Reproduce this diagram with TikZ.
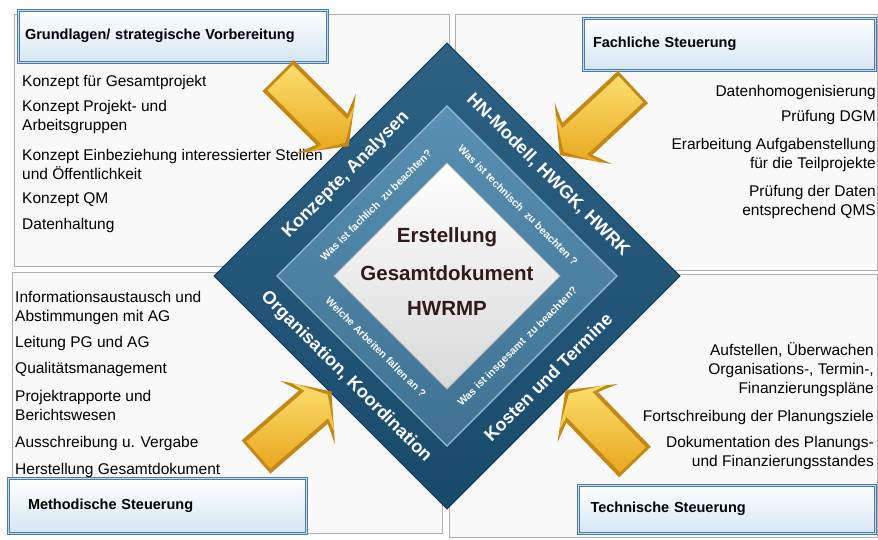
\documentclass[tikz,border=0pt]{standalone}
\usepackage{fontspec}
\setmainfont{Liberation Sans}
\usetikzlibrary{positioning}
\definecolor{outerblue}{RGB}{27,84,122}
\definecolor{rimblue}{RGB}{16,52,80}
\definecolor{midblue}{RGB}{74,134,172}
\definecolor{boxblue}{RGB}{72,124,170}
\definecolor{boxfill}{RGB}{214,230,243}
\definecolor{goldlight}{RGB}{252,222,110}
\definecolor{golddark}{RGB}{232,168,30}
\definecolor{goldedge}{RGB}{196,136,22}
\definecolor{corecolor}{RGB}{48,26,26}
\definecolor{panelline}{RGB}{175,175,175}
\tikzset{
  panel/.style={draw=panelline,fill=gray!5,line width=0.8pt},
  titlebox/.style={rectangle,top color=white,bottom color=boxfill,align=left,
    postaction={draw=boxblue,line width=3pt},postaction={draw=white!70!boxblue,line width=1pt},
    font=\fontsize{14.5}{17}\selectfont\bfseries},
  item/.style={font=\fontsize{15.5}{19}\selectfont,inner sep=0pt},
  bandtext/.style={text=white,font=\fontsize{18}{20}\selectfont\bfseries,inner sep=0pt},
  asktext/.style={text=white,font=\fontsize{10.5}{12}\selectfont\bfseries,inner sep=0pt},
  centertext/.style={text=corecolor,font=\fontsize{20.5}{23}\selectfont\bfseries,inner sep=0pt}
}
% block arrow: tail centre, direction
\newcommand{\goldarrow}[2]{%
  \begin{scope}[shift={(#1)},rotate=#2]
    \fill[goldedge] (0,-22) -- (76,-22) -- (68,-42) -- (100,0) -- (68,42) -- (76,22) -- (0,22) -- cycle;
    \shade[top color=goldlight,bottom color=golddark] (3,-18) -- (80,-18) -- (75,-34) -- (95,0) -- (75,34) -- (80,18) -- (3,18) -- cycle;
  \end{scope}}

\begin{document}
\begin{tikzpicture}[x=1pt,y=-1pt]
\useasboundingbox[fill=white] (0,0) rectangle (878,539);
% quadrants
\draw[panel] (14,14) rectangle (449,266);
\draw[panel] (455,14) rectangle (877,270);
\draw[panel] (12,272) rectangle (442,533);
\draw[panel] (449,274) rectangle (877,537);
%
\node[titlebox,minimum width=309pt,minimum height=52pt,text width=295pt,inner xsep=7pt] (grundTitle) at (172.5,36) {Grundlagen/ strategische Vorbereitung};
\node[titlebox,minimum width=292pt,minimum height=52pt,text width=272pt,inner xsep=10pt] (fachTitle) at (729,44) {Fachliche Steuerung};
\node[titlebox,minimum width=298pt,minimum height=55pt,text width=258pt,inner xsep=20pt] (methTitle) at (157,505.5) {Methodische Steuerung};
\node[titlebox,minimum width=297pt,minimum height=48pt,text width=273pt,inner xsep=12pt] (techTitle) at (727,509) {Technische Steuerung};
%
\node[item,anchor=west,align=left] (grund1) at (22,82) {Konzept für Gesamtprojekt};
\node[item,anchor=west,align=left] (grund2) at (22,117) {Konzept Projekt- und\\Arbeitsgruppen};
\node[item,anchor=west,align=left] (grund3) at (22,164.5) {Konzept Einbeziehung interessierter Stellen\\und Öffentlichkeit};
\node[item,anchor=west,align=left] (grund4) at (22,200) {Konzept QM};
\node[item,anchor=west,align=left] (grund5) at (22,225) {Datenhaltung};
%
\node[item,anchor=east,align=right] (fach1) at (876,92) {Datenhomogenisierung};
\node[item,anchor=east,align=right] (fach2) at (876,117) {Prüfung DGM};
\node[item,anchor=east,align=right] (fach3) at (876,155) {Erarbeitung Aufgabenstellung\\für die Teilprojekte};
\node[item,anchor=east,align=right] (fach4) at (876,202) {Prüfung der Daten\\entsprechend QMS};
%
\node[item,anchor=west,align=left] (meth1) at (15,307.5) {Informationsaustausch und\\Abstimmungen mit AG};
\node[item,anchor=west,align=left] (meth2) at (15,343) {Leitung PG und AG};
\node[item,anchor=west,align=left] (meth3) at (15,369) {Qualitätsmanagement};
\node[item,anchor=west,align=left] (meth4) at (15,405) {Projektrapporte und\\Berichtswesen};
\node[item,anchor=west,align=left] (meth5) at (15,443) {Ausschreibung u. Vergabe};
\node[item,anchor=west,align=left] (meth6) at (15,470) {Herstellung Gesamtdokument};
%
\node[item,anchor=east,align=right] (tech1) at (874,370) {Aufstellen, Überwachen\\Organisations-, Termin-,\\Finanzierungspläne};
\node[item,anchor=east,align=right] (tech2) at (874,417) {Fortschreibung der Planungsziele};
\node[item,anchor=east,align=right] (tech3) at (874,453) {Dokumentation des Planungs-\\und Finanzierungsstandes};
% diamond
\path[draw=rimblue,line width=1pt,top color=outerblue!92!white,bottom color=outerblue!88!black]
  (447,43) -- (680,276) -- (447,509) -- (214,276) -- cycle;
\path[draw=midblue!55!white,line width=1.2pt,top color=midblue!92!white,bottom color=midblue!85!black]
  (447,106) -- (617,276) -- (447,446) -- (277,276) -- cycle;
\path[draw=gray!55,line width=1pt,top color=white,bottom color=gray!30]
  (447,163) -- (560,276) -- (447,389) -- (334,276) -- cycle;
%
\node[bandtext,rotate=45] (bandKonzept) at (346,175) {Konzepte, Analysen};
\node[bandtext,rotate=-45] (bandModell) at (548,175) {HN-Modell, HWGK, HWRK};
\node[bandtext,rotate=-45] (bandOrga) at (346,377) {Organisation, Koordination};
\node[bandtext,rotate=45] (bandKosten) at (548,377) {Kosten und Termine};
%
\node[asktext,rotate=45] (askFach) at (376,205) {Was ist fachlich~ zu beachten?};
\node[asktext,rotate=-45] (askTech) at (518,205) {Was ist technisch~ zu beachten ?};
\node[asktext,rotate=-45] (askArbeit) at (376,347) {Welche Arbeiten fallen an ?};
\node[asktext,rotate=45] (askGesamt) at (518,347) {Was ist insgesamt~ zu beachten?};
%
\node[centertext] (core1) at (447,237) {Erstellung};
\node[centertext] (core2) at (447,273) {Gesamtdokument};
\node[centertext] (core3) at (447,308) {HWRMP};
% arrows
\goldarrow{278,75.5}{-45}
\goldarrow{633,87}{-137}
\goldarrow{256,457}{41}
\goldarrow{635,462}{134}
\end{tikzpicture}
\end{document}
